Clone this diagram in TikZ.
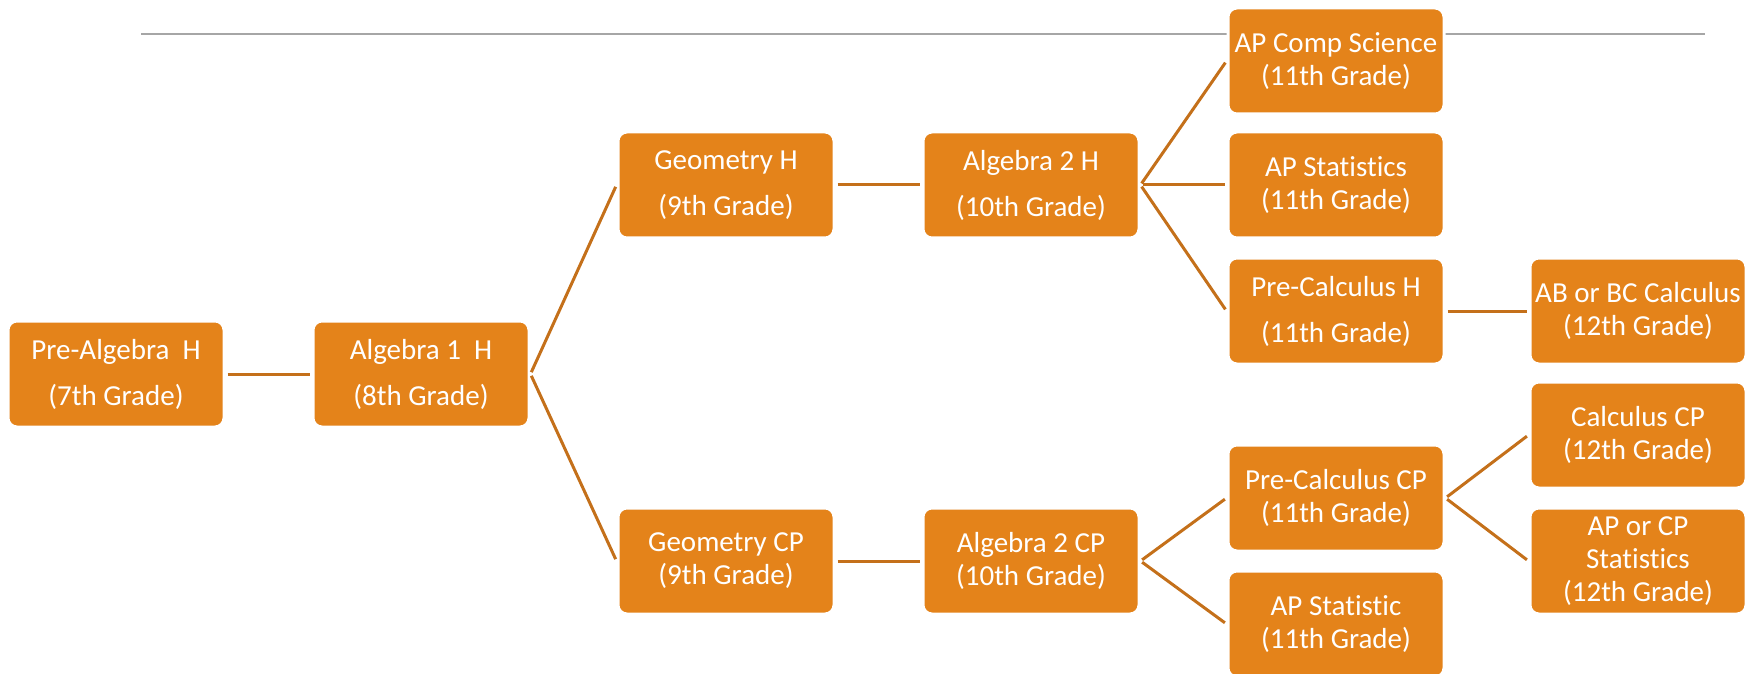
\documentclass[tikz,border=0pt]{standalone}
\usepackage{fontspec}
\setmainfont[Ligatures={NoCommon,NoRare}]{Carlito}
\definecolor{courseorange}{HTML}{E4831A}
\definecolor{linkorange}{HTML}{C4701A}
\definecolor{rulegray}{HTML}{A6A6A6}

\begin{document}
\begin{tikzpicture}[x=0.5pt, y=-0.5pt,
  course/.style={draw=white, line width=1.5pt, fill=courseorange, rounded corners=4.5pt,
    minimum width=108pt, minimum height=53pt, inner sep=0pt, align=center,
    text=white, font=\fontsize{14.5}{16.5}\selectfont},
  link/.style={draw=linkorange, line width=1.5pt, shorten >=1pt, shorten <=1pt}]

\useasboundingbox (0,0) rectangle (1758,674);

%\draw[step=100, color=gray!40] (0,0) grid (1758,674);

\draw[rulegray, line width=0.75pt] (141,34) -- (1705,34);

% 7th and 8th grade
\node[course] (prealg) at (116,374) {Pre-Algebra\ \ H\\[6.5pt](7th Grade)};
\node[course] (alg1h) at (421,374) {Algebra 1\ \ H\\[6.5pt](8th Grade)};

% 9th and 10th grade
\node[course] (geoh) at (726,185) {Geometry H\\[6.5pt](9th Grade)};
\node[course] (geocp) at (726,561) {Geometry CP\\(9th Grade)};
\node[course] (alg2h) at (1031,185) {Algebra 2 H\\[6.5pt](10th Grade)};
\node[course] (alg2cp) at (1031,561) {Algebra 2 CP\\(10th Grade)};

% 11th grade
\node[course] (apcomp) at (1336,61) {AP Comp Science\\(11th Grade)};
\node[course] (apstath) at (1336,185) {AP Statistics\\(11th Grade)};
\node[course] (precalch) at (1336,311) {Pre-Calculus H\\[6.5pt](11th Grade)};
\node[course] (precalccp) at (1336,498) {Pre-Calculus CP\\(11th Grade)};
\node[course] (apstatcp) at (1336,624) {AP Statistic\\(11th Grade)};

% 12th grade
\node[course] (calcab) at (1638,311) {AB or BC Calculus\\(12th Grade)};
\node[course] (calccp) at (1638,435) {Calculus CP\\(12th Grade)};
\node[course] (statcp) at (1638,561) {AP or CP\\Statistics\\(12th Grade)};

\draw[link] (prealg.east) -- (alg1h.west);
\draw[link] (alg1h.east) -- (geoh.west);
\draw[link] (alg1h.east) -- (geocp.west);
\draw[link] (geoh.east) -- (alg2h.west);
\draw[link] (geocp.east) -- (alg2cp.west);

\draw[link] (alg2h.east) -- (apcomp.west);
\draw[link] (alg2h.east) -- (apstath.west);
\draw[link] (alg2h.east) -- (precalch.west);
\draw[link] (precalch.east) -- (calcab.west);

\draw[link] (alg2cp.east) -- (precalccp.west);
\draw[link] (alg2cp.east) -- (apstatcp.west);
\draw[link] (precalccp.east) -- (calccp.west);
\draw[link] (precalccp.east) -- (statcp.west);

\end{tikzpicture}
\end{document}
